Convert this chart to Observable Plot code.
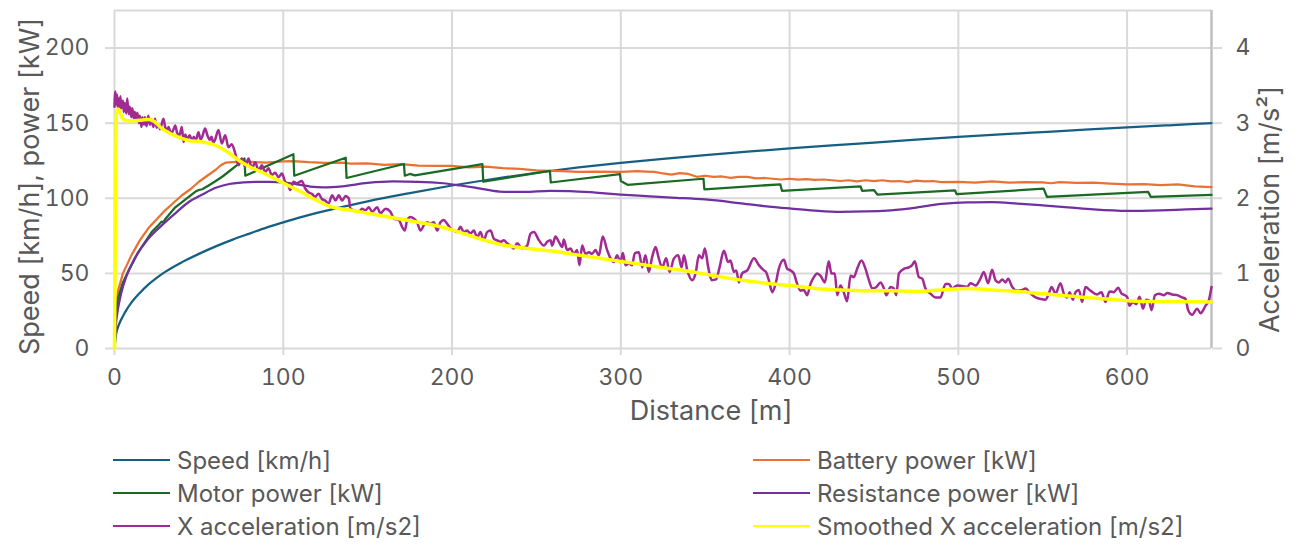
<!DOCTYPE html>
<html>
<head>
<meta charset="utf-8">
<script src="https://cdn.jsdelivr.net/npm/d3@7"></script>
<script src="https://cdn.jsdelivr.net/npm/@observablehq/plot@0.6"></script>
<style>
  html, body { margin: 0; padding: 0; background: #fff; }
  #wrap { position: relative; width: 1299px; height: 552px; font-family: Inter, "Open Sans", sans-serif; color: #595959; }
  #legend { position: absolute; left: 0; top: 430px; width: 1299px; height: 122px; }
  .item { position: absolute; display: flex; align-items: center; height: 30px; font-size: 24px; white-space: nowrap; }
  .swatch { width: 57px; height: 0; border-top: 2.5px solid; margin-right: 7px; }
</style>
</head>
<body>
<div id="wrap">
  <div id="chart"></div>
  <div id="legend"></div>
</div>
<script>
// Distance [m] → value pairs for each series
const speed = [[0,0],[1,10],[2,14],[3,17],[5,21.5],[7,25.5],[10,30.5],[15,37],[20,42.5],[25,47],[30,51],[40,57.5],[50,63],[60,68],[70,72.5],[80,76.5],[90,80.5],[100,84],[110,87.3],[120,90.3],[130,93],[140,95.5],[150,98],[175,103.5],[200,108.5],[225,113],[250,117],[275,120.5],[300,123.5],[325,126.2],[350,128.7],[375,131],[400,133.2],[425,135.2],[450,137.1],[475,139],[500,140.8],[525,142.5],[550,144.1],[575,145.7],[600,147.2],[625,148.6],[650,150]];

const battery = [[0,18],[1,30],[2,38],[5,50],[10,62],[15,72],[20,80],[25,86],[30,92],[35,97],[40,102],[45,106],[50,111],[55,115],[60,119],[63,122],[66,123.8],[70,124],[80,124.2],[90,123.8],[100,124.5],[106,124.8],[115,124],[125,123.5],[135,123.8],[140,123],[150,123.2],[160,122.2],[170,122.8],[180,121.8],[190,121.5],[200,121.5],[210,120.6],[220,121],[230,120],[240,119.5],[250,118.6],[258,118.2],[265,118],[275,117.6],[285,117.8],[300,117.5],[310,118],[315,117.8],[320,117.6],[325,116.5],[330,115.8],[335,116.8],[340,116.2],[345,114.3],[350,115],[355,114.2],[360,114.5],[365,113.6],[370,114.3],[375,114.2],[380,113.2],[385,113.5],[390,113],[395,112.5],[400,113],[405,112.4],[410,112.8],[415,112.3],[420,112.5],[425,112],[430,111.5],[435,112],[440,111.2],[445,112],[450,111.4],[455,112],[460,111.3],[465,111.5],[470,110.8],[475,111.8],[480,111.2],[485,111.5],[490,110.8],[500,111],[510,110.5],[520,111.3],[530,110.5],[540,110.7],[550,110.6],[555,110],[560,110.8],[570,110.2],[580,110.5],[590,109.8],[600,109.3],[610,109.5],[620,108.8],[630,109.2],[640,108],[650,107.5]];

const motor = [[0,15],[1,25],[2,33],[5,44],[8,51],[14,64],[22,77.5],[26,82],[28,84.5],[29,84],[30,86],[36,94],[44,101],[48,104.5],[50,105.5],[52,106],[56,108.7],[60,111.5],[64,114.5],[68,118],[72,121.5],[77,126.5],[77.5,115],[106,129.3],[106.5,115],[137,127],[137.5,113.5],[171.5,122.8],[172,115],[175,116.2],[178,115.2],[218,122.7],[218.5,111],[258,118.3],[258.5,110.5],[299.5,116],[300,111.5],[304,109],[349,113],[349.5,106],[394.5,109.3],[395.5,105],[442,108],[443,105],[450,105.5],[452,102.5],[498,105.3],[499,102.7],[550.5,106.4],[552.5,101],[612.5,104.2],[614,101],[650,102.2]];

const resistance = [[0,3],[1,18],[2,26],[4,37],[7,48],[12,60],[20,73],[28,82],[36,90],[44,97.5],[52,102.5],[60,107],[68,109.5],[80,110.8],[92,111],[100,110.6],[108,109.3],[116,107.8],[124,107.3],[135,108],[150,110.2],[165,111.2],[180,111],[195,110],[205,108.5],[215,106.8],[228,104.5],[243,104.2],[258,105],[270,104.8],[285,103.8],[300,102.5],[315,101.5],[330,100.5],[350,99.2],[370,96.8],[385,94.8],[400,93.2],[415,91.8],[430,91],[445,91.2],[460,92],[475,93.8],[490,96.2],[505,97.3],[520,97.4],[535,96.5],[550,95.3],[565,94],[580,92.6],[600,91.6],[620,92],[635,92.6],[650,93.1]];

// Acceleration series, m/s² (right axis)
const accelX = [[0,3.22],[0.5,3.42],[1,3.25],[1.5,3.38],[2,3.2],[2.5,3.33],[3,3.18],[3.5,3.36],[4,3.2],[5,3.3],[5.5,3.15],[6,3.27],[7,3.13],[7.5,3.33],[8.5,3.12],[9,3.22],[10,3.08],[10.5,3.2],[11.5,3.06],[12,3.15],[13,3.04],[13.5,3.14],[14.5,3.0],[15,3.1],[16,2.95],[16.5,3.08],[17.5,2.98],[18,3.08],[19,2.96],[20,3.1],[21,2.98],[22,3.05],[23,2.95],[24,3.06],[25,2.94],[26,2.98],[27,2.92],[29,3.06],[30,2.95],[31,2.9],[32,2.95],[33.5,2.86],[35,2.92],[36,2.97],[37,2.88],[38.5,2.84],[39.9,2.95],[40.9,2.75],[42,2.85],[43,2.78],[44.5,2.84],[46,2.77],[47,2.82],[48,2.76],[49.8,2.88],[51,2.78],[52,2.82],[53.7,2.93],[55,2.84],[56.5,2.78],[57.5,2.82],[58.5,2.74],[59.6,2.78],[61.6,2.91],[63.6,2.73],[65.6,2.84],[67.5,2.68],[69.5,2.72],[71.5,2.6],[73.5,2.44],[75.4,2.53],[77.4,2.42],[79.4,2.53],[81.4,2.4],[83.4,2.48],[85.3,2.37],[87.3,2.44],[89.3,2.35],[91.2,2.4],[93.2,2.31],[95.2,2.34],[97.2,2.28],[99.2,2.33],[101.1,2.22],[103.1,2.17],[104.1,2.11],[106.1,2.22],[108,2.2],[111,2.23],[113,2.13],[114.9,2.08],[116.9,2.06],[118.9,2.02],[120.9,2.06],[122.9,1.99],[124.8,1.97],[126.8,1.93],[129,2.04],[130.9,1.97],[132.9,2.04],[134.9,1.97],[136.9,2.03],[138.8,2.0],[139.8,1.86],[141.8,1.84],[144.8,1.82],[146.7,1.86],[148.7,1.84],[150.7,1.88],[152.7,1.82],[155.6,1.88],[157.6,1.8],[160.6,1.86],[163.5,1.82],[165.5,1.73],[168.5,1.71],[170.4,1.62],[172,1.57],[173.4,1.71],[175.4,1.75],[177.3,1.73],[179.3,1.68],[181.3,1.57],[183.3,1.64],[185.2,1.68],[187.2,1.66],[189.2,1.68],[191.2,1.57],[193.1,1.68],[195.1,1.71],[197.1,1.66],[199.1,1.6],[201,1.57],[203,1.55],[205,1.62],[207,1.55],[208.9,1.57],[210.9,1.53],[212.9,1.57],[214.9,1.48],[216.8,1.55],[218.8,1.44],[220.8,1.55],[222.8,1.57],[224.8,1.46],[226.7,1.44],[228.7,1.42],[230.7,1.44],[232.6,1.4],[234.6,1.37],[236.6,1.33],[238.6,1.4],[241.6,1.33],[244.5,1.37],[246.5,1.53],[248.5,1.55],[251.5,1.44],[254.4,1.37],[256.4,1.42],[258.4,1.44],[259.3,1.37],[261.3,1.49],[263.3,1.42],[265.3,1.35],[266.2,1.45],[268.2,1.31],[270.2,1.33],[272.2,1.26],[274.1,1.31],[275.5,1.11],[277.1,1.37],[279.1,1.26],[281.1,1.28],[283,1.26],[285,1.31],[287,1.24],[289.3,1.49],[291.9,1.31],[293.9,1.2],[295.9,1.15],[297.8,1.24],[299.8,1.15],[301.2,1.27],[302.8,1.11],[304.8,1.13],[306.7,1.11],[308.3,1.27],[310.7,1.28],[312.7,1.08],[314.6,1.24],[316.6,1.02],[318.6,1.22],[320.6,1.35],[322.5,1.2],[324.5,1.08],[326.9,1.2],[328.9,1.02],[331.5,1.2],[334,1.24],[336,1.08],[337.4,1.24],[339.4,1.04],[342.3,0.91],[344.3,1.0],[346.3,1.24],[348.2,1.2],[349.8,1.33],[351.8,1.08],[353.8,0.91],[356.5,0.92],[358.5,1.08],[361.1,1.3],[363.6,1.15],[365,1.17],[367,1.02],[368.4,1.04],[370,0.88],[371.9,1.0],[374.9,1.04],[378.9,1.2],[381.8,1.11],[384.8,1.04],[386,1.02],[387.7,0.91],[389.7,0.75],[391.7,0.86],[393.6,1.06],[396.6,1.18],[398.6,1.06],[400.5,1.04],[402.5,1.0],[404.5,0.86],[406.5,0.77],[408.4,0.78],[410.4,0.71],[412.4,0.86],[414.4,0.95],[416.3,1.0],[418.3,0.97],[420.9,0.88],[423.2,1.16],[424.8,1.0],[426.8,1.0],[428.2,0.71],[430.2,0.84],[432.1,0.75],[434.1,0.63],[436.1,0.97],[438.1,0.95],[440,1.06],[442.6,1.17],[445,1.06],[447,0.91],[449,0.8],[451.5,0.82],[453.9,0.88],[455.9,0.8],[457.3,0.71],[459.8,0.82],[461.8,0.8],[463.2,0.71],[464.8,1.0],[467.7,1.06],[470.7,1.08],[472.6,1.11],[474.2,1.16],[476.6,0.95],[478.6,0.93],[480.5,0.8],[483.5,0.73],[486.5,0.68],[489.4,0.68],[492.4,0.86],[494.4,0.86],[496.3,0.8],[499.3,0.84],[503.2,0.83],[505.2,0.82],[507.2,0.87],[510.2,0.84],[513.1,0.93],[515.1,1.02],[517.6,0.87],[520,1.05],[522,0.91],[524,0.88],[526,0.92],[527.9,0.88],[529.5,0.93],[531.9,0.82],[534.9,0.77],[537.8,0.78],[539.8,0.8],[542.8,0.73],[545.7,0.68],[548.7,0.66],[551.6,0.65],[553.6,0.73],[555.2,0.82],[557.6,0.73],[560.5,0.87],[562.5,0.73],[564.5,0.68],[565.9,0.75],[567.9,0.65],[569.4,0.75],[571.4,0.78],[573.4,0.62],[575.3,0.82],[578.3,0.77],[582.2,0.72],[584.8,0.75],[587.2,0.62],[589.6,0.76],[592.1,0.75],[594.7,0.81],[596.7,0.73],[598.7,0.71],[600.1,0.68],[601.4,0.57],[603.4,0.62],[605.4,0.59],[607.4,0.69],[609.4,0.53],[611.3,0.65],[612.9,0.64],[614.5,0.51],[616.5,0.71],[618.8,0.73],[621.8,0.71],[623.8,0.74],[626.7,0.72],[629.7,0.71],[632.6,0.68],[634.6,0.66],[636.2,0.51],[638.6,0.45],[641.5,0.53],[643.5,0.47],[646.5,0.57],[648.4,0.64],[650,0.82]];

const accelSmooth = [[0,0],[1,3.1],[2,3.19],[3,3.17],[4,3.1],[6,3.04],[10,3.03],[16,3.04],[20,3.05],[23,3.03],[28,2.93],[36,2.83],[44,2.77],[52,2.75],[58,2.72],[63,2.67],[68,2.6],[74,2.5],[80,2.42],[87,2.35],[95,2.26],[103,2.17],[111,2.08],[119,1.98],[128,1.89],[140,1.84],[155,1.78],[170,1.72],[185,1.66],[200,1.58],[215,1.47],[230,1.38],[245,1.33],[258,1.3],[270,1.26],[285,1.21],[300,1.16],[315,1.11],[330,1.06],[345,1.01],[360,0.95],[375,0.9],[390,0.86],[400,0.84],[415,0.8],[430,0.78],[445,0.77],[460,0.77],[475,0.76],[490,0.78],[505,0.8],[520,0.78],[535,0.76],[550,0.73],[565,0.7],[575,0.68],[590,0.655],[605,0.63],[620,0.625],[650,0.62]];

// Axis ticks and labels
const xTicks = [0, 100, 200, 300, 400, 500, 600];
const leftTicks = [0, 50, 100, 150, 200];
const rightTicks = [0, 1, 2, 3, 4];
const xLabel = "Distance [m]";
const yLeftLabel = "Speed [km/h], power [kW]";
const yRightLabel = "Acceleration [m/s²]";

// 1 m/s² on the right axis spans 50 units of the left axis
const ACC = 50;

const series = [
  {name: "Speed [km/h]", data: speed, color: "#156082", width: 2.25, scale: 1, curve: "monotone-x"},
  {name: "Battery power [kW]", data: battery, color: "#E97132", width: 2.25, scale: 1, curve: "linear"},
  {name: "Motor power [kW]", data: motor, color: "#196B24", width: 2.25, scale: 1, curve: "linear"},
  {name: "Resistance power [kW]", data: resistance, color: "#7030A0", width: 2.25, scale: 1, curve: "monotone-x"},
  {name: "X acceleration [m/s2]", data: accelX, color: "#A02B93", width: 2.5, scale: ACC, curve: "monotone-x"},
  {name: "Smoothed X acceleration [m/s2]", data: accelSmooth, color: "#FFFF00", width: 3.5, scale: ACC, curve: "monotone-x"}
];

const grid = "#d9d9d9";
const ink = "#595959";

const chart = Plot.plot({
  width: 1299,
  height: 430,
  marginLeft: 114,
  marginRight: 88,
  marginTop: 10,
  marginBottom: 82,
  style: {fontFamily: "Inter, 'Open Sans', sans-serif", fontSize: "23px", color: ink, background: "#fff"},
  x: {domain: [0, 650]},
  y: {domain: [0, 225]},
  marks: [
    Plot.gridY(leftTicks, {stroke: grid, strokeOpacity: 1, strokeWidth: 2}),
    Plot.gridX(xTicks, {stroke: grid, strokeOpacity: 1, strokeWidth: 2}),
    Plot.ruleY([225], {stroke: grid, strokeWidth: 2}),
    Plot.ruleX([650], {stroke: "#bfbfbf", strokeWidth: 2.5}),
    Plot.axisX(xTicks, {tickSize: 7, tickPadding: 13, stroke: grid, strokeWidth: 2, fill: ink, fontSize: 23, label: null}),
    Plot.axisY(leftTicks, {anchor: "left", tickSize: 9, tickPadding: 16, stroke: grid, strokeWidth: 2, fill: ink, fontSize: 23, label: null}),
    Plot.axisY(rightTicks.map(t => t * ACC), {anchor: "right", tickSize: 10, tickPadding: 14, stroke: grid, strokeWidth: 2, fill: ink, fontSize: 23, label: null, tickFormat: d => d3.format("d")(d / ACC)}),
    ...series.map(s => Plot.line(s.data, {
      x: d => d[0],
      y: d => d[1] * s.scale,
      stroke: s.color,
      strokeWidth: s.width,
      curve: s.curve
    })),
    Plot.text([xLabel], {frameAnchor: "bottom", textAnchor: "middle", dx: 48, dy: 71, fontSize: 27, fill: ink}),
    Plot.text([yLeftLabel], {frameAnchor: "left", textAnchor: "middle", dx: -84, dy: 7, rotate: -90, fontSize: 27, fill: ink}),
    Plot.text([yRightLabel], {frameAnchor: "right", textAnchor: "middle", dx: 59, dy: 30, rotate: -90, fontSize: 27, fill: ink})
  ]
});
document.getElementById("chart").appendChild(chart);

// Legend: two columns, three rows
const legend = document.getElementById("legend");
const colX = [113, 753];
const rowY = [15, 48, 81];
series.forEach((s, i) => {
  const item = document.createElement("div");
  item.className = "item";
  item.style.left = colX[i % 2] + "px";
  item.style.top = rowY[Math.floor(i / 2)] + "px";
  const sw = document.createElement("span");
  sw.className = "swatch";
  sw.style.borderTopColor = s.color;
  const label = document.createElement("span");
  label.textContent = s.name;
  item.append(sw, label);
  legend.appendChild(item);
});
</script>
</body>
</html>
